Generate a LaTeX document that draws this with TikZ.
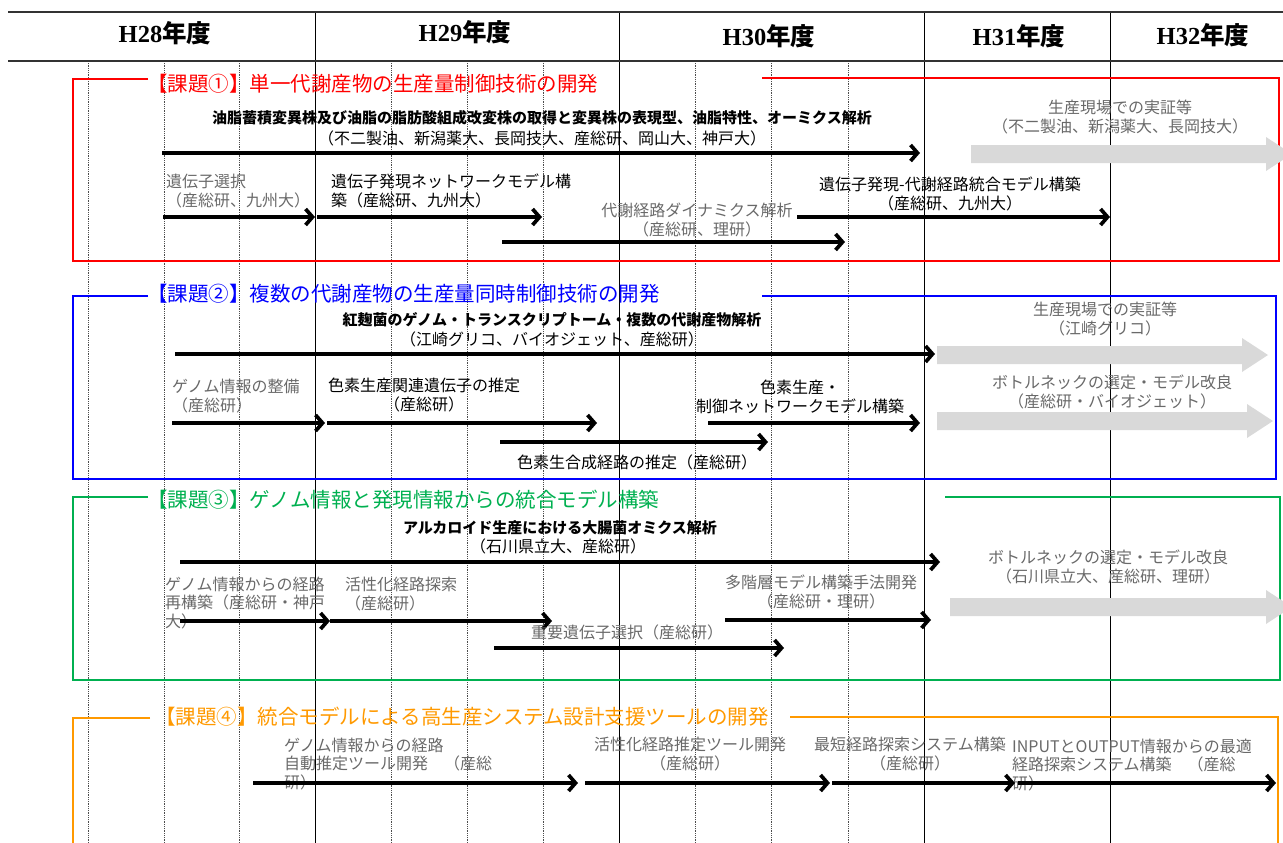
\documentclass[tikz,border=0pt]{standalone}
\usepackage{fontspec}
\setmainfont{Noto Sans CJK JP}
\newfontfamily\hdfont{Liberation Serif}
\usetikzlibrary{arrows.meta}
\definecolor{kred}{RGB}{255,0,0}
\definecolor{kblue}{RGB}{0,0,255}
\definecolor{kgreen}{RGB}{0,176,80}
\definecolor{korange}{RGB}{255,153,0}
\definecolor{lbl}{RGB}{105,105,105}
\definecolor{bigar}{RGB}{217,217,217}
\tikzset{
  bar/.style={line width=3.7pt, -{Straight Barb[length=7pt,width=16pt]}},
  wide/.style={fill=bigar, draw=none},
  lab/.style={font=\fontsize{16}{18.5}\selectfont, inner sep=0pt, align=center},
  glab/.style={lab, text=lbl},
  blab/.style={lab, font=\fontsize{15}{18}\selectfont\bfseries},
  ttl/.style={font=\fontsize{20.5}{24}\selectfont, inner sep=0pt, anchor=west},
  yr/.style={font=\fontsize{24.5}{28}\selectfont\bfseries, inner sep=0pt},
  qline/.style={densely dotted, line width=0.8pt, black!70},
  yline/.style={line width=0.9pt},
  hdline/.style={line width=2.5pt, black!80},
  frame/.style={line width=1.2pt},
}
\newcommand\grayarrow[3]{\fill[wide] (#1,#3-9) -- (#2-26,#3-9) -- (#2-26,#3-17) -- (#2,#3) -- (#2-26,#3+17) -- (#2-26,#3+9) -- (#1,#3+9) -- cycle;}
\begin{document}
\begin{tikzpicture}[x=1pt, y=-1pt]
                \useasboundingbox (0,0) rectangle (1283,843);
                \foreach \q in {88,164,239,391,467,543,695,771,848}
                  \draw[qline] (\q,61) -- (\q,843);
                \foreach \s in {315,619,924,1110}
                  \draw[yline] (\s,12) -- (\s,843);
                \draw[hdline] (8,12) -- (1283,12);
                \draw[hdline] (8,61) -- (1283,61);
                \node[yr] (h28) at (165,33) {{\hdfont H28}年度};
                \node[yr] (h29) at (465,32) {{\hdfont H29}年度};
                \node[yr] (h30) at (769,36) {{\hdfont H30}年度};
                \node[yr] (h31) at (1019,36) {{\hdfont H31}年度};
                \node[yr] (h32) at (1203,35) {{\hdfont H32}年度};
                \draw[kred, frame] (148,79) -- (73,79) -- (73,261) -- (1279,261) -- (1279,78) -- (762,78);
                \node[ttl, text=kred] (k1) at (147,84) {【課題①】単一代謝産物の生産量制御技術の開発};
                \node[blab] (b1) at (542,118) {油脂蓄積変異株及び油脂の脂肪酸組成改変株の取得と変異株の表現型、油脂特性、オーミクス解析};
                \node[lab] (b1s) at (542,138) {（不二製油、新潟薬大、長岡技大、産総研、岡山大、神戸大）};
                \draw[bar] (162,153) -- (920,153);
                \grayarrow{971}{1292}{154}
                \node[glab] (r1) at (1120,117) {生産現場での実証等\\（不二製油、新潟薬大、長岡技大）};
                \node[glab, anchor=west, align=left] (g1a) at (166,191) {遺伝子選択\\（産総研、九州大）};
                \node[lab, anchor=west, align=left] (g1b) at (331,191) {遺伝子発現ネットワークモデル構\\築（産総研、九州大）};
                \node[glab] (g1c) at (697,220) {代謝経路ダイナミクス解析\\（産総研、理研）};
                \node[lab] (g1d) at (950,194) {遺伝子発現-代謝経路統合モデル構築\\（産総研、九州大）};
                \draw[bar] (163,217) -- (315,217);
                \draw[bar] (317,217) -- (542,217);
                \draw[bar] (502,242) -- (845,242);
                \draw[bar] (797,217) -- (1110,217);
                \draw[kblue, frame] (148,296) -- (73,296) -- (73,479) -- (1276,479) -- (1276,296) -- (762,296);
                \node[ttl, text=kblue] (k2) at (147,294) {【課題②】複数の代謝産物の生産量同時制御技術の開発};
                \node[blab] (b2) at (552,320) {紅麹菌のゲノム・トランスクリプトーム・複数の代謝産物解析};
                \node[lab] (b2s) at (552,339) {（江崎グリコ、バイオジェット、産総研）};
                \draw[bar] (175,354) -- (935,354);
                \grayarrow{937}{1268}{355}
                \node[glab] (r2) at (1105,319) {生産現場での実証等\\（江崎グリコ）};
                \node[glab, anchor=west, align=left] (g2a) at (172,396) {ゲノム情報の整備\\（産総研）};
                \node[lab] (g2b) at (424,395) {色素生産関連遺伝子の推定\\（産総研）};
                \node[lab] (g2c) at (800,397) {色素生産・\\制御ネットワークモデル構築};
                \node[glab] (r2b) at (1112,392) {ボトルネックの選定・モデル改良\\（産総研・バイオジェット）};
                \grayarrow{937}{1273}{421}
                \draw[bar] (172,423) -- (325,423);
                \draw[bar] (327,423) -- (597,423);
                \draw[bar] (708,423) -- (920,423);
                \draw[bar] (500,442) -- (768,442);
                \node[lab] (g2d) at (637,462) {色素生合成経路の推定（産総研）};
                \draw[kgreen, frame] (148,497) -- (73,497) -- (73,680) -- (1280,680) -- (1280,497) -- (945,497);
                \node[ttl, text=kgreen] (k3) at (147,500) {【課題③】ゲノム情報と発現情報からの統合モデル構築};
                \node[blab] (b3) at (560,528) {アルカロイド生産における大腸菌オミクス解析};
                \node[lab] (b3s) at (558,546) {（石川県立大、産総研）};
                \draw[bar] (180,562) -- (940,562);
                \node[glab] (r3) at (1108,567) {ボトルネックの選定・モデル改良\\（石川県立大、産総研、理研）};
                \grayarrow{950}{1292}{607}
                \node[glab, anchor=west, align=left] (g3a) at (165,603) {ゲノム情報からの経路\\再構築（産総研・神戸\\大）};
                \node[glab, anchor=west, align=left] (g3b) at (345,594) {活性化経路探索\\（産総研）};
                \node[glab] (g3c) at (821,592) {多階層モデル構築手法開発\\（産総研・理研）};
                \draw[bar] (180,621) -- (330,621);
                \draw[bar] (330,621) -- (552,621);
                \draw[bar] (725,620) -- (931,620);
                \node[glab] (g3d) at (627,632) {重要遺伝子選択（産総研）};
                \draw[bar] (494,648) -- (784,648);
                \draw[korange, frame] (150,718) -- (73,718) -- (73,850);
                \draw[korange, frame] (790,717) -- (1278,717) -- (1278,850);
                \node[ttl, text=korange] (k4) at (155,717) {【課題④】統合モデルによる高生産システム設計支援ツールの開発};
                \node[glab, anchor=west, align=left] (g4a) at (284,764) {ゲノム情報からの経路\\自動推定ツール開発　（産総\\研）};
                \node[glab] (g4b) at (690,754) {活性化経路推定ツール開発\\（産総研）};
                \node[glab] (g4c) at (910,754) {最短経路探索システム構築\\（産総研）};
                \node[glab, anchor=west, align=left] (g4d) at (1012,765) {INPUTとOUTPUT情報からの最適\\経路探索システム構築　（産総\\研）};
                \draw[bar] (253,783) -- (578,783);
                \draw[bar] (585,783) -- (830,783);
                \draw[bar] (832,783) -- (1015,783);
                \draw[bar] (1018,783) -- (1276,783);
\end{tikzpicture}
\end{document}
